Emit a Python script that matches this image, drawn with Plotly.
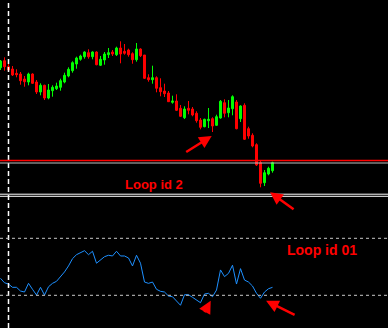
import plotly.graph_objects as go

# ---- data (candle index, prices in chart units) ----
idx = list(range(69))
opens = [232.3, 239.3, 233.3, 231, 226.7, 226, 221, 218, 226, 218, 208, 214.7, 202, 209.3, 211.3, 212.7, 218, 224, 229.3, 236,
         240.7, 243.3, 247.3, 243.3, 248, 234.7, 240, 245.3, 248, 245.3, 252, 248.7, 250, 246.3, 240.3, 251, 245, 222.3, 220.3, 222.3,
         212.3, 209, 207, 197.7, 199, 191.7, 182.3, 191.7, 191, 186.7, 180, 173.3, 179.3, 181.3, 174.7, 182, 197.3, 187.3, 191.3, 198,
         181.3, 194.7, 171.3, 164.7, 155.3, 137.3, 117.3, 126, 129.3]
highs = [240, 242.7, 236.7, 234, 230.7, 228, 224, 227.3, 226.7, 220, 216.7, 215.3, 216, 214.7, 217.3, 221.3, 227.3, 232.7, 238.7, 243.3,
         245.3, 248.7, 250.7, 248.7, 248.7, 244, 248, 252, 250, 253.3, 258.7, 256, 251.3, 247.7, 257, 251.7, 245, 225.7, 234.3, 223.7,
         221.7, 216.3, 209, 204.3, 205.7, 195, 193.7, 199, 193, 188.7, 182, 181.3, 192, 182.7, 185.3, 200, 200.7, 200, 204.7, 200,
         194.7, 196.7, 173.3, 166.7, 156.7, 140, 130, 133.3, 138.3]
lows = [230, 229.3, 228.3, 224, 222.7, 215.3, 213.3, 214.7, 216, 206, 204.7, 200, 200.7, 203.3, 210, 209.3, 216.7, 222.7, 227.3, 231.3,
        239.3, 241.3, 241.3, 240.7, 234.7, 234, 235.3, 242, 244, 244, 236.7, 245.3, 243.3, 236.3, 238.3, 243, 221, 218.3, 216.3, 207.7,
        203.7, 203, 198, 196.3, 189, 183, 181, 185.7, 183.7, 177.3, 170.7, 172.7, 172, 168, 174, 181.3, 182.7, 182.7, 184.7, 170.7,
        178, 160, 161.3, 152.7, 134, 112.7, 114, 124.7, 127.3]
closes = [239, 233.3, 230, 225, 225.3, 219.3, 218.3, 226, 216.7, 208, 214.7, 202, 210, 212.7, 214, 219.3, 224.7, 230.7, 237.3, 242,
          244, 248, 243.3, 248, 235.3, 240.7, 246, 247.3, 246, 252, 246, 246.7, 245.3, 240.3, 251, 244.3, 221.7, 220.3, 222.3, 211.7,
          208.3, 206.3, 198.3, 199, 189.7, 183.7, 191, 189.7, 185, 179.3, 172.7, 180.7, 180.7, 174, 183.3, 198.7, 186.7, 192, 203.3, 171.3,
          194, 160.7, 164, 154, 135, 116.7, 127.3, 131.7, 137.3]

osc = [41.9, 38.8, 37.9, 35.6, 35.6, 33.0, 32.3, 38.4, 34.2, 30.2, 35.6, 30.2, 36.0, 38.4, 39.8, 43.1, 46.4, 50.6, 55.7, 58.5,
       59.9, 61.3, 58.5, 60.9, 52.5, 54.8, 57.1, 58.1, 57.6, 60.9, 57.6, 57.6, 56.2, 50.6, 58.1, 52.5, 39.3, 38.4, 39.3, 34.2,
       32.8, 32.3, 29.5, 29.0, 26.2, 23.0, 30.4, 30.4, 28.6, 26.7, 24.8, 30.9, 31.4, 29.0, 33.7, 47.8, 43.1, 45.4, 51.1, 37.9,
       48.7, 40.7, 39.3, 36.5, 31.4, 27.9, 32.3, 34.6, 35.6]

osc_levels = [70, 30]
red_level = 139.5
bid_level = 137.0
vline_idx = 2

labels = ["Loop id 2", "Loop id 01"]

GREEN = "#00FF00"
RED = "#FF0000"

fig = go.Figure()
fig.add_trace(go.Candlestick(
    x=idx, open=opens, high=highs, low=lows, close=closes,
    increasing=dict(line=dict(color=GREEN, width=1), fillcolor=GREEN),
    decreasing=dict(line=dict(color=RED, width=1), fillcolor=RED),
    whiskerwidth=0, xaxis="x", yaxis="y", hoverinfo="skip"))
fig.add_trace(go.Scatter(x=idx, y=osc, mode="lines",
                         line=dict(color="#1E90FF", width=1),
                         xaxis="x2", yaxis="y2", hoverinfo="skip"))

shapes = []
# vertical dashed separator
shapes.append(dict(type="line", xref="x", x0=vline_idx, x1=vline_idx, yref="paper", y0=0, y1=1,
                   line=dict(color="white", width=1.5, dash="5px,3px")))
# red horizontal level & bid line
shapes.append(dict(type="line", xref="paper", x0=0, x1=1, yref="y", y0=red_level, y1=red_level,
                   line=dict(color=RED, width=1.5)))
shapes.append(dict(type="line", xref="paper", x0=0, x1=1, yref="y", y0=bid_level, y1=bid_level,
                   line=dict(color="#C0C0C0", width=1)))
# window separator (double white)
for yp in (1 - 194.2 / 328, 1 - 196.3 / 328):
    shapes.append(dict(type="line", xref="paper", x0=0, x1=1, yref="paper", y0=yp, y1=yp,
                       line=dict(color="white", width=1)))
# oscillator dashed levels
for lv in osc_levels:
    shapes.append(dict(type="line", xref="paper", x0=0, x1=1, yref="y2", y0=lv, y1=lv,
                       line=dict(color="#C8C8C8", width=1, dash="3px,3px")))

annotations = [
    dict(text="<b>" + labels[0] + "</b>", x=38.4, y=115.7, xref="x", yref="y", showarrow=False,
         font=dict(family="Liberation Sans", size=13, color=RED)),
    dict(text="<b>" + labels[1] + "</b>", x=80.4, y=61.8, xref="x2", yref="y2", showarrow=False,
         font=dict(family="Liberation Sans", size=14, color=RED)),
]
arrows = [
    ("x", "y", 52.8, 164.0, -27, 17),
    ("x", "y", 67.4, 107.7, 25, 18),
    ("x2", "y2", 52.55, 26.2, -7, 13),
    ("x2", "y2", 66.4, 26.2, 30, 15),
]
for xr, yr, xv, yv, ax, ay in arrows:
    annotations.append(dict(text="", x=xv, y=yv, xref=xr, yref=yr, ax=ax, ay=ay,
                            showarrow=True, arrowhead=2, arrowsize=1, arrowwidth=2.5,
                            arrowcolor=RED, standoff=0))

axis_off = dict(visible=False, showgrid=False, zeroline=False, showticklabels=False)
fig.update_layout(
    width=388, height=328, margin=dict(l=0, r=0, t=0, b=0),
    paper_bgcolor="black", plot_bgcolor="black", showlegend=False,
    xaxis=dict(range=[-0.125, 96.875], anchor="y", rangeslider=dict(visible=False), **axis_off),
    yaxis=dict(domain=[1 - 193 / 328, 1], range=[107, 300], anchor="x", **axis_off),
    xaxis2=dict(range=[-0.125, 96.875], anchor="y2", matches="x", **axis_off),
    yaxis2=dict(domain=[0, 1 - 197 / 328], range=[7.05, 98.98], anchor="x2", **axis_off),
    shapes=shapes, annotations=annotations,
)
fig.write_html("out.html")
